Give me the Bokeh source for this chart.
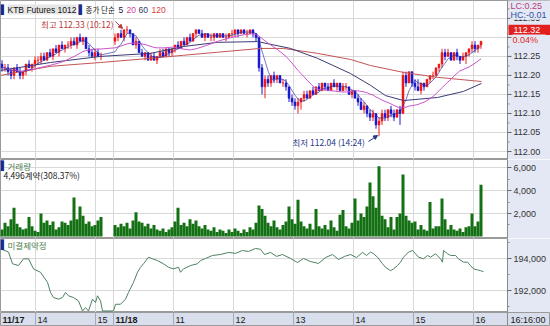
import pandas as pd
from bokeh.plotting import figure
from bokeh.layouts import column
from bokeh.models import (ColumnDataSource, Range1d, FixedTicker, NumeralTickFormatter,
                          Label, Arrow, NormalHead)
from bokeh.core.properties import value
from bokeh.embed import file_html
from bokeh.resources import INLINE

FONT = "Liberation Sans"
KFONT = "Noto Sans CJK KR"
BLOCK = "DejaVu Sans"
AXIS_BG = "#e4e8f4"
STRIP_BG = "#d8deec"
GRID = "#d9d9d9"
UP = "#ee1a1a"
DOWN = "#1a1ad0"

# ---------------- data ----------------
BAR_MINUTES = 3
S1_START_SLOT = 0      # 11/17 13:25
S2_START_SLOT = 113    # 11/18 10:00

# 11/17 session, 3-minute bars
s1_open = [112.23,112.22,112.22,112.21,112.20,112.22,112.21,112.20,112.21,112.23,112.22,112.23,112.24,112.24,112.25,112.24,112.26,
           112.25,112.27,112.26,112.28,112.27,112.28,112.28,112.29,112.28,112.30,112.29,112.30,112.27,112.26,112.25,112.26,112.25]
s1_high = [112.24,112.23,112.23,112.22,112.22,112.23,112.22,112.21,112.23,112.24,112.23,112.25,112.25,112.26,112.26,112.26,112.27,
           112.27,112.28,112.28,112.29,112.28,112.29,112.30,112.30,112.30,112.31,112.30,112.30,112.28,112.27,112.27,112.27,112.26]
s1_low = [112.21,112.21,112.20,112.19,112.19,112.21,112.19,112.19,112.20,112.22,112.21,112.22,112.23,112.23,112.24,112.24,112.25,
          112.24,112.26,112.25,112.27,112.26,112.27,112.27,112.28,112.27,112.29,112.28,112.27,112.25,112.25,112.24,112.25,112.24]
s1_close = [112.22,112.22,112.21,112.20,112.22,112.21,112.20,112.21,112.23,112.22,112.23,112.24,112.24,112.25,112.24,112.26,112.25,
            112.27,112.26,112.28,112.27,112.28,112.28,112.29,112.28,112.30,112.29,112.30,112.27,112.26,112.25,112.26,112.25,112.25]
s1_volume = [600,1200,900,1500,2500,1100,800,600,700,1700,900,500,400,2000,1200,1400,1000,
             1300,600,800,1300,1200,1000,1400,3400,1500,2600,1800,1100,1300,900,1000,1400,1700]

# 11/18 session, 3-minute bars
s2_open = [112.29,112.30,112.31,112.30,112.32,112.32,112.31,112.28,112.29,112.26,
           112.25,112.26,112.24,112.25,112.24,112.25,112.26,112.25,112.27,112.26,
           112.27,112.28,112.27,112.29,112.28,112.30,112.29,112.31,112.32,112.31,
           112.30,112.31,112.30,112.30,112.31,112.30,112.31,112.30,112.30,112.31,
           112.31,112.32,112.31,112.32,112.31,112.31,112.32,112.31,112.30,112.22,
           112.17,112.19,112.18,112.20,112.19,112.20,112.18,112.18,112.17,112.14,
           112.13,112.12,112.13,112.14,112.15,112.14,112.16,112.15,112.17,112.16,
           112.18,112.17,112.16,112.18,112.17,112.18,112.16,112.17,112.17,112.15,
           112.16,112.14,112.13,112.11,112.12,112.10,112.09,112.10,112.07,112.08,
           112.10,112.09,112.11,112.10,112.09,112.11,112.10,112.20,112.18,112.21,
           112.18,112.17,112.16,112.18,112.17,112.19,112.20,112.20,112.22,112.23,
           112.26,112.25,112.26,112.24,112.26,112.25,112.24,112.25,112.26,112.27,
           112.28,112.27,112.28]
s2_high = [112.31,112.31,112.32,112.32,112.33,112.32,112.31,112.30,112.29,112.27,
           112.26,112.26,112.26,112.26,112.25,112.27,112.27,112.27,112.27,112.27,
           112.28,112.29,112.29,112.30,112.30,112.31,112.31,112.32,112.32,112.32,
           112.31,112.31,112.31,112.31,112.31,112.31,112.31,112.31,112.31,112.32,
           112.32,112.32,112.32,112.32,112.32,112.32,112.32,112.31,112.30,112.23,
           112.20,112.20,112.20,112.21,112.20,112.20,112.19,112.19,112.17,112.15,
           112.14,112.14,112.14,112.16,112.16,112.16,112.17,112.17,112.18,112.18,
           112.18,112.18,112.18,112.19,112.18,112.18,112.18,112.18,112.17,112.16,
           112.16,112.15,112.14,112.13,112.12,112.11,112.11,112.10,112.09,112.11,
           112.11,112.11,112.12,112.11,112.11,112.12,112.21,112.21,112.21,112.21,
           112.19,112.19,112.18,112.18,112.19,112.20,112.21,112.22,112.23,112.27,
           112.27,112.27,112.26,112.26,112.27,112.25,112.26,112.26,112.27,112.29,
           112.29,112.28,112.29]
s2_low = [112.28,112.29,112.30,112.29,112.31,112.30,112.28,112.27,112.26,112.25,
          112.24,112.24,112.24,112.24,112.23,112.25,112.25,112.25,112.25,112.25,
          112.26,112.27,112.27,112.28,112.28,112.29,112.29,112.30,112.31,112.30,
          112.29,112.30,112.29,112.29,112.30,112.30,112.30,112.29,112.30,112.30,
          112.30,112.30,112.31,112.31,112.30,112.31,112.30,112.29,112.21,112.15,
          112.14,112.17,112.17,112.18,112.18,112.18,112.17,112.16,112.13,112.12,
          112.11,112.10,112.11,112.13,112.14,112.14,112.15,112.15,112.16,112.16,
          112.16,112.16,112.16,112.17,112.16,112.16,112.16,112.16,112.15,112.14,
          112.14,112.12,112.11,112.10,112.09,112.08,112.08,112.06,112.04,112.07,
          112.08,112.08,112.09,112.08,112.09,112.07,112.10,112.17,112.18,112.17,
          112.16,112.16,112.15,112.16,112.17,112.18,112.19,112.20,112.21,112.22,
          112.24,112.25,112.24,112.24,112.24,112.23,112.24,112.23,112.25,112.26,
          112.26,112.26,112.27]
s2_close = [112.30,112.31,112.30,112.32,112.32,112.31,112.28,112.29,112.26,112.25,
            112.26,112.24,112.25,112.24,112.25,112.26,112.25,112.27,112.26,112.27,
            112.28,112.27,112.29,112.28,112.30,112.29,112.31,112.32,112.31,112.30,
            112.31,112.30,112.30,112.31,112.30,112.31,112.30,112.30,112.31,112.31,
            112.32,112.31,112.32,112.31,112.31,112.32,112.31,112.30,112.22,112.17,
            112.19,112.18,112.20,112.19,112.20,112.18,112.18,112.17,112.14,112.13,
            112.12,112.13,112.14,112.15,112.14,112.16,112.15,112.17,112.16,112.18,
            112.17,112.16,112.18,112.17,112.18,112.16,112.17,112.17,112.15,112.16,
            112.14,112.13,112.11,112.12,112.10,112.09,112.10,112.07,112.08,112.10,
            112.09,112.11,112.10,112.09,112.11,112.10,112.20,112.18,112.21,112.18,
            112.17,112.16,112.18,112.17,112.19,112.20,112.20,112.22,112.23,112.26,
            112.25,112.26,112.24,112.26,112.25,112.24,112.25,112.26,112.27,112.28,
            112.27,112.28,112.29]
s2_volume = [1000,800,1100,900,1200,700,1400,2100,1300,1200,
             900,1100,700,1000,600,500,700,400,600,800,
             1300,2500,1000,1200,900,1500,1100,1400,900,700,
             1000,600,500,800,400,600,500,300,600,400,
             700,500,300,600,400,800,600,1200,2700,2400,
             1800,1200,900,1400,800,600,1000,1300,2600,1500,
             1100,3200,1300,900,700,1100,600,2400,900,700,
             1000,600,1400,800,500,1900,2300,900,700,1200,
             3300,1400,2000,1700,2600,4700,3500,2500,6100,1800,
             1500,800,1700,600,1700,2000,5400,1800,1400,1200,
             1300,600,1000,600,500,3000,700,900,900,3300,
             1500,600,1000,600,500,700,400,800,900,2000,
             900,1300,4500]

last_price = 112.32
last_price_text = "112.32"
status_lc = "LC:0.25"
status_hc = "HC:-0.01"
status_change = "0.04%"

# moving averages 60 / 120
ma60_slot = [0, 50, 100, 150, 183, 217, 257, 290, 317, 350, 370, 385, 403, 437, 463, 481]
ma60_value = [112.213, 112.234, 112.250, 112.258, 112.276, 112.287, 112.289, 112.271, 112.245,
              112.205, 112.174, 112.147, 112.134, 112.142, 112.158, 112.179]
ma120_slot = [0, 50, 100, 150, 183, 217, 260, 283, 317, 350, 370, 403, 437, 481]
ma120_value = [112.200, 112.224, 112.234, 112.245, 112.253, 112.261, 112.271, 112.271, 112.258,
               112.242, 112.226, 112.208, 112.195, 112.184]

# open interest
oi_slot = [0,8,12,18,23,28,33,40,47,50,53,58,62,65,68,73,78,82,85,88,92,95,97,100,102,
           113,115,120,125,128,133,137,140,143,148,152,157,163,168,173,178,180,183,190,197,200,
           205,212,220,228,235,242,248,255,260,264,270,276,282,290,297,303,310,318,325,332,
           338,344,350,356,362,366,370,373,377,382,385,390,393,397,400,403,408,412,415,418,
           423,427,430,435,440,442,443,447,450,455,458,463,467,470,473,477,480,483]
oi_value = [194610,194400,193670,193560,193980,193980,193350,193140,192510,191880,
            191560,191460,191560,191880,191670,191560,191350,190720,190930,190720,
            191460,191250,191670,191350,190720,
            190720,191140,191140,191460,191880,192510,193140,193450,193670,194080,
            193980,193870,193670,193450,193350,193450,193140,193350,193560,193670,193870,
            194000,194190,194250,194380,194320,194500,194440,194630,194570,194250,
            194380,194130,194250,194000,193750,194000,193810,193690,194060,194250,
            193940,194130,194250,194060,194380,194190,
            194400,194300,194080,193670,193450,193240,193350,193560,193770,194080,
            194400,194500,194300,194080,193980,194190,194080,194300,193980,193770,
            194500,194300,194190,194190,193980,193770,193770,193560,193350,193290,
            193240,193180]

time_tick_slots = [0, 35, 95, 113, 173, 233, 293, 353, 413, 473]
time_tick_labels = ["11/17", "14", "15", "11/18", "11", "12", "13", "14", "15", "16"]
date_label_flags = [True, False, False, True, False, False, False, False, False, False]

price_ticks = [112.00, 112.05, 112.10, 112.15, 112.20, 112.25, 112.30, 112.35]
price_minor = [112.025, 112.075, 112.125, 112.175, 112.225, 112.275, 112.325, 112.375]
volume_ticks = [2000, 4000, 6000]
oi_ticks = [192000, 194000]

# ---------------- frame ----------------
xs = ([S1_START_SLOT + BAR_MINUTES * i + 1.5 for i in range(len(s1_close))] +
      [S2_START_SLOT + BAR_MINUTES * i + 1.5 for i in range(len(s2_close))])
df = pd.DataFrame(dict(x=xs, open=s1_open + s2_open, high=s1_high + s2_high,
                       low=s1_low + s2_low, close=s1_close + s2_close,
                       volume=s1_volume + s2_volume))
df["top"] = df[["open", "close"]].max(axis=1)
df["bottom"] = df[["open", "close"]].min(axis=1)
df["color"] = [UP if c >= o else DOWN for o, c in zip(df["open"], df["close"])]
df["ma5"] = df["close"].rolling(5, min_periods=1).mean()
df["ma20"] = df["close"].rolling(20, min_periods=1).mean()
src = ColumnDataSource(df)

grid_slots = [s for s in time_tick_slots if s > 0]
PLOT_RIGHT = 507       # right edge of the plotting area (slot units == px)
FULL_RIGHT = 550
X_RANGE = Range1d(0, PLOT_RIGHT)


def no_align(p):
    try:
        p.frame_align = False
    except Exception:
        pass


def style_common(p, yticks):
    p.background_fill_color = "white"
    p.border_fill_color = AXIS_BG
    p.outline_line_color = "#9a9a9a"
    p.ygrid.ticker = FixedTicker(ticks=yticks)
    p.ygrid.grid_line_color = GRID
    p.xgrid.ticker = FixedTicker(ticks=grid_slots)
    p.xgrid.grid_line_color = GRID
    no_align(p)


def make_panel(height, yr, ticks, minor, fmt):
    p = figure(width=550, height=height, x_range=X_RANGE, y_range=Range1d(*yr),
               output_backend="svg", toolbar_location=None,
               x_axis_location=None, y_axis_location="right",
               min_border_left=0, min_border_right=43, min_border_top=0, min_border_bottom=0)
    style_common(p, ticks)
    ax = p.yaxis[0]
    ax.ticker = FixedTicker(ticks=ticks, minor_ticks=minor)
    ax.formatter = NumeralTickFormatter(format=fmt)
    ax.major_label_text_font = FONT
    ax.major_label_text_font_size = "9px"
    ax.major_label_text_color = "#333333"
    ax.major_tick_out = 4
    ax.major_tick_in = 0
    ax.minor_tick_out = 2
    ax.minor_tick_in = 0
    ax.major_label_standoff = 2
    ax.axis_line_color = "#8a8a8a"
    ax.major_tick_line_color = "#666666"
    ax.minor_tick_line_color = "#888888"
    return p


def lab(p, h, text, x, y_top, color="#222222", font=FONT, size="9px", bold=False, bg=None,
        align="left"):
    l = Label(x=x, y=h - y_top, x_units="screen", y_units="screen", text=text,
              text_color=color, text_font=font, text_font_size=size,
              text_baseline="middle", text_align=align,
              text_font_style="bold" if bold else "normal")
    if bg is not None:
        l.background_fill_color = bg
    p.add_layout(l)


# ---- price panel (its price scale is drawn inside the frame, right of the plot area) ----
H1 = 159
PY0, PY1 = 111.979, 112.397
p1 = figure(width=550, height=H1, x_range=Range1d(0, FULL_RIGHT), y_range=Range1d(PY0, PY1),
            output_backend="svg", toolbar_location=None,
            x_axis_location=None, y_axis_location=None,
            min_border_left=0, min_border_right=0, min_border_top=0, min_border_bottom=0)
style_common(p1, price_ticks)
p1.segment(x0="x", y0="low", x1="x", y1="high", source=src, line_color="color", line_width=1)
p1.vbar(x="x", width=2.0, top="top", bottom="bottom", source=src,
        fill_color="color", line_color="color", line_width=0.5)
p1.line(ma120_slot, ma120_value, line_color="#c45454", line_width=1)
p1.line(ma60_slot, ma60_value, line_color="#3a3a78", line_width=1)
p1.line("x", "ma20", source=src, line_color="#cc55cc", line_width=1)
p1.line("x", "ma5", source=src, line_color="#2a2a9a", line_width=0.8, line_alpha=0.8)

# price scale
p1.quad(left=[PLOT_RIGHT], right=[FULL_RIGHT], bottom=[PY0], top=[PY1],
        fill_color=AXIS_BG, line_color=None)
p1.segment(x0=[PLOT_RIGHT], y0=[PY0], x1=[PLOT_RIGHT], y1=[PY1], line_color="#8a8a8a")
p1.segment(x0=[PLOT_RIGHT] * len(price_ticks), y0=price_ticks,
           x1=[PLOT_RIGHT + 4] * len(price_ticks), y1=price_ticks, line_color="#666666")
p1.segment(x0=[PLOT_RIGHT] * len(price_minor), y0=price_minor,
           x1=[PLOT_RIGHT + 2] * len(price_minor), y1=price_minor, line_color="#888888")
p1.text(x=[PLOT_RIGHT + 6] * len(price_ticks), y=price_ticks,
        text=[f"{t:.2f}" for t in price_ticks], text_font=value(FONT), text_font_size="9px",
        text_baseline="middle", text_color="#333333")

# last price box
p1.quad(left=[PLOT_RIGHT + 1], right=[FULL_RIGHT], bottom=[last_price - 0.0135],
        top=[last_price + 0.0135], fill_color="#e32020", line_color=None)
p1.text(x=[PLOT_RIGHT + 6], y=[last_price], text=[last_price_text], text_font=value(FONT),
        text_font_size="9px", text_baseline="middle", text_color="white")

# status texts
lab(p1, H1, status_lc + "\u00a0\u00a0\u00a0", 510, 5, color="#b8407a", bg=AXIS_BG)
lab(p1, H1, status_hc + "\u00a0", 510, 14, color="#2f4fa8", bg=AXIS_BG)
lab(p1, H1, status_change + "\u00a0\u00a0\u00a0", 512, 39, color="#e02828", bg=AXIS_BG)

# legend
lab(p1, H1, "▌", 0, 9, color="#1c2a8c", font=BLOCK)
lab(p1, H1, "KTB Futures 1012", 7, 9, color="#111111", size="8.5px", bg="#e6e6e6")
lab(p1, H1, "▌", 78, 9, color="#1c2a8c", font=BLOCK)
lab(p1, H1, "종가 단순", 85, 9, color="#111111", font=KFONT, size="7.5px")
lab(p1, H1, "5", 118, 9, color="#222244", size="8.5px")
lab(p1, H1, "20", 126, 9, color="#d0409c", size="8.5px")
lab(p1, H1, "60", 138, 9, color="#333366", size="8.5px")
lab(p1, H1, "120", 151, 9, color="#d83c3c", size="8.5px")

# high / low annotations
lab(p1, H1, "최고 112.33 (10:12)", 113, 23, color="#b83a3a", font=KFONT, size="8.5px", align="right")
p1.add_layout(Arrow(end=NormalHead(size=4, fill_color="#b83a3a", line_color="#b83a3a"),
                    x_start=115, y_start=H1 - 21, x_end=122, y_end=H1 - 28,
                    start_units="screen", end_units="screen",
                    line_color="#b83a3a", line_width=1))
lab(p1, H1, "최저 112.04 (14:24)", 292, 141, color="#1f3a8a", font=KFONT, size="8.5px")
p1.add_layout(Arrow(end=NormalHead(size=4, fill_color="#1f3a8a", line_color="#1f3a8a"),
                    x_start=368, y_start=H1 - 141, x_end=377, y_end=H1 - 135,
                    start_units="screen", end_units="screen",
                    line_color="#1f3a8a", line_width=1))

# ---- volume panel ----
H2 = 79
p2 = make_panel(H2, (-174, 6696), volume_ticks, [1000, 3000, 5000], "0,0")
p2.vbar(x="x", width=3, top="volume", bottom=0, source=src,
        fill_color="#137013", line_color=None)
lab(p2, H2, "▌", 0, 6, color="#1c2a8c", font=BLOCK)
lab(p2, H2, "거래량", 7, 6, color="#4f7f4f", font=KFONT, size="8.5px")
lab(p2, H2, "4,496계약(308.37%)", 3, 15, color="#222222", font=KFONT, size="8.5px")

# ---- open interest panel ----
H3 = 74
p3 = make_panel(H3, (190625, 195250), oi_ticks, [191000, 193000, 195000], "0,0")
p3.line(oi_slot, oi_value, line_color="#4d8060", line_width=1)
lab(p3, H3, "▌", 0, 6, color="#1c2a8c", font=BLOCK)
lab(p3, H3, "미결제약정", 7, 6, color="#4f7f4f", font=KFONT, size="8.5px")

# ---- time strip ----
p4 = figure(width=550, height=14, x_range=Range1d(0, FULL_RIGHT), y_range=Range1d(0, 1),
            output_backend="svg", toolbar_location=None,
            x_axis_location=None, y_axis_location=None,
            min_border_left=0, min_border_right=0, min_border_top=0, min_border_bottom=0)
no_align(p4)
p4.background_fill_color = STRIP_BG
p4.border_fill_color = STRIP_BG
p4.outline_line_color = "#9a9a9a"
p4.xgrid.visible = False
p4.ygrid.visible = False
p4.segment(x0=grid_slots, y0=[0] * len(grid_slots), x1=grid_slots, y1=[1] * len(grid_slots),
           line_color="#a3aabd", line_width=1)
p4.segment(x0=[PLOT_RIGHT], y0=[0], x1=[PLOT_RIGHT], y1=[1], line_color="#8a8a8a", line_width=1)
date_x = [s + 2 for s, d in zip(time_tick_slots, date_label_flags) if d]
date_t = [t for t, d in zip(time_tick_labels, date_label_flags) if d]
hour_x = [s + 2 for s, d in zip(time_tick_slots, date_label_flags) if not d]
hour_t = [t for t, d in zip(time_tick_labels, date_label_flags) if not d]
p4.text(x=date_x, y=[0.45] * len(date_x), text=date_t, text_font=value(FONT),
        text_font_size="9px", text_font_style="bold", text_baseline="middle", text_color="#1a1a1a")
p4.text(x=hour_x, y=[0.45] * len(hour_x), text=hour_t, text_font=value(FONT),
        text_font_size="9px", text_baseline="middle", text_color="#1a1a1a")
p4.text(x=[PLOT_RIGHT + 3], y=[0.45], text=["16:16:00"], text_font=value(FONT),
        text_font_size="9px", text_baseline="middle", text_color="#1a1a1a")

layout = column(p1, p2, p3, p4, spacing=0)
open("out.html", "w").write(file_html(layout, INLINE))
